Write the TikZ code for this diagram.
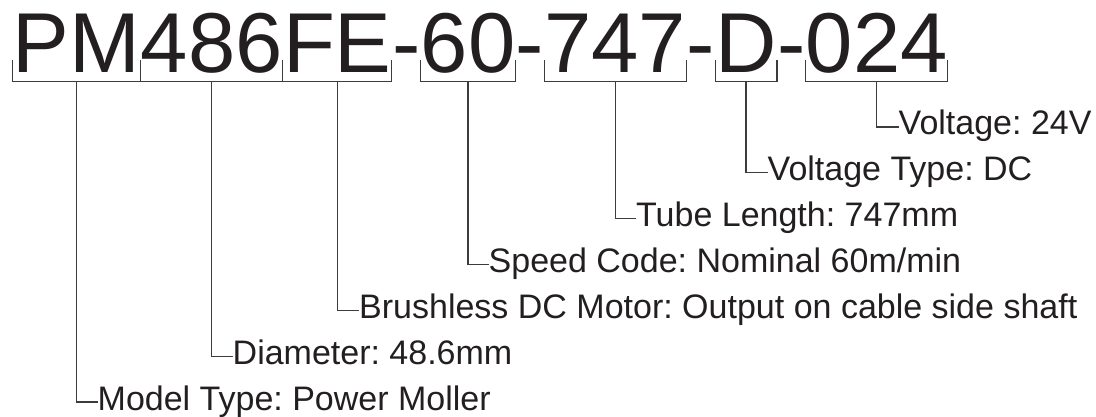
\documentclass[tikz,border=0pt]{standalone}
\usepackage{fontspec}
\setmainfont{Liberation Sans}
\usetikzlibrary{positioning}
\definecolor{ink}{HTML}{231F20}
\definecolor{wire}{HTML}{3C3C3C}
\frenchspacing

\begin{document}
\begin{tikzpicture}[
        x=1pt, y=-1pt,
        code/.style={inner sep=0pt, font=\fontsize{85}{90}\selectfont, text=ink},
        desc/.style={inner sep=0pt, anchor=west, text height=24pt, text depth=8pt, font=\fontsize{34}{40}\selectfont, text=ink},
        bracket/.style={draw=wire, line width=1.2pt},
        lead/.style={draw=wire, line width=1.2pt}
    ]
    \useasboundingbox (0,0) rectangle (1096,417);

    % Part number, one node per field
    \node (pm) [code, anchor=base west] at (12.7,72.7) {PM};
    \node (n486) [code, base right=0pt of pm] {486};
    \node (fe) [code, base right=0pt of n486] {FE};
    \node (hy1) [code, base right=0pt of fe] {-};
    \node (n60) [code, base right=0pt of hy1] {60};
    \node (hy2) [code, base right=0pt of n60] {-};
    \node (n747) [code, base right=0pt of hy2] {747};
    \node (hy3) [code, base right=0pt of n747] {-};
    \node (d) [code, base right=0pt of hy3] {D};
    \node (hy4) [code, base right=0pt of d] {-};
    \node (n024) [code, base right=0pt of hy4] {024};

    % Field descriptions
    \node (voltage) [desc] at (898.5,127) {Voltage: 24V};
    \node (vtype) [desc] at (767.5,172.8) {Voltage Type: DC};
    \node (tube) [desc] at (636,218.7) {Tube Length: 747mm};
    \node (speed) [desc] at (488.5,264.5) {Speed Code: Nominal 60m/min};
    \node (motor) [desc] at (359,310.3) {Brushless DC Motor: Output on cable side shaft};
    \node (diameter) [desc] at (232.5,356.2) {Diameter: 48.6mm};
    \node (model) [desc] at (97.5,402) {Model Type: Power Moller};

    % Brackets under the fields
    \draw [bracket] ([yshift=12.7pt]pm.base west) -- ([yshift=-8.8pt]pm.base west) -- ([yshift=-8.8pt]pm.base east) -- ([yshift=12.7pt]pm.base east);
    \draw [bracket] ([yshift=12.7pt]n486.base west) -- ([yshift=-8.8pt]n486.base west) -- ([yshift=-8.8pt]n486.base east) -- ([yshift=12.7pt]n486.base east);
    \draw [bracket] ([yshift=12.7pt]fe.base west) -- ([yshift=-8.8pt]fe.base west) -- ([yshift=-8.8pt]fe.base east) -- ([yshift=12.7pt]fe.base east);
    \draw [bracket] ([yshift=12.7pt]n60.base west) -- ([yshift=-8.8pt]n60.base west) -- ([yshift=-8.8pt]n60.base east) -- ([yshift=12.7pt]n60.base east);
    \draw [bracket] ([yshift=12.7pt]n747.base west) -- ([yshift=-8.8pt]n747.base west) -- ([yshift=-8.8pt]n747.base east) -- ([yshift=12.7pt]n747.base east);
    \draw [bracket] ([yshift=12.7pt]d.base west) -- ([yshift=-8.8pt]d.base west) -- ([yshift=-8.8pt]d.base east) -- ([yshift=12.7pt]d.base east);
    \draw [bracket] ([yshift=12.7pt]n024.base west) -- ([yshift=-8.8pt]n024.base west) -- ([yshift=-8.8pt]n024.base east) -- ([yshift=12.7pt]n024.base east);

    % Leader lines to the descriptions
    \draw [lead] ([yshift=-8.8pt]pm.base) |- (model.west);
    \draw [lead] ([yshift=-8.8pt]n486.base) |- (diameter.west);
    \draw [lead] ([yshift=-8.8pt]fe.base) |- (motor.west);
    \draw [lead] ([yshift=-8.8pt]n60.base) |- (speed.west);
    \draw [lead] ([yshift=-8.8pt]n747.base) |- (tube.west);
    \draw [lead] ([yshift=-8.8pt]d.base) |- (vtype.west);
    \draw [lead] ([yshift=-8.8pt]n024.base) |- (voltage.west);
\end{tikzpicture}
\end{document}
